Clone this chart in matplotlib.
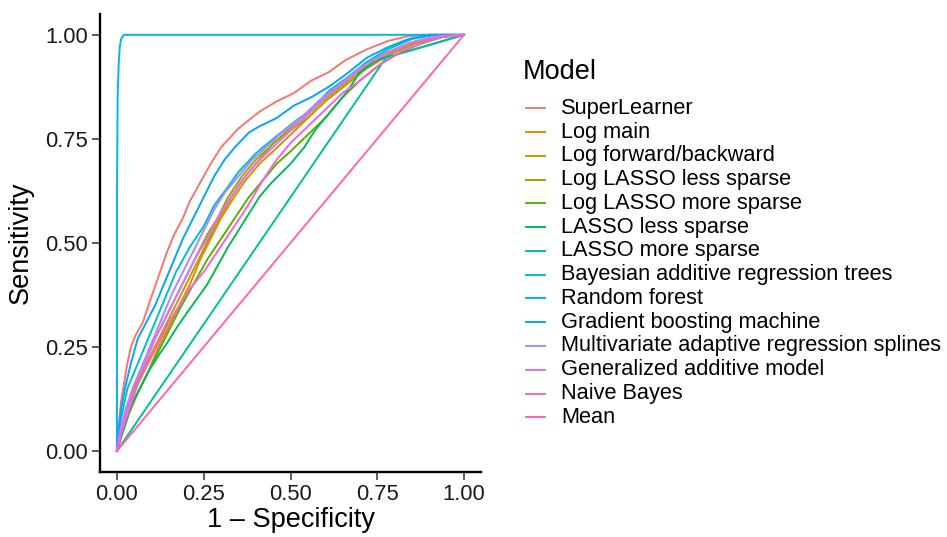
import numpy as np
import matplotlib
matplotlib.use("Agg")
import matplotlib.pyplot as plt
from matplotlib.lines import Line2D

plt.rcParams['font.family'] = ['Liberation Sans', 'DejaVu Sans']

# Model names (legend order)
models = [
    "SuperLearner", "Log main", "Log forward/backward", "Log LASSO less sparse",
    "Log LASSO more sparse", "LASSO less sparse", "LASSO more sparse",
    "Bayesian additive regression trees", "Random forest",
    "Gradient boosting machine", "Multivariate adaptive regression splines",
    "Generalized additive model", "Naive Bayes", "Mean",
]

# ROC curves: (1 - specificity, sensitivity)
superlearner_fpr = [0, 0.005, 0.012, 0.02, 0.03, 0.04, 0.055, 0.075, 0.095, 0.12, 0.145, 0.165, 0.19, 0.21, 0.24, 0.27, 0.30, 0.35, 0.41, 0.46, 0.51, 0.56, 0.61, 0.66, 0.72, 0.78, 0.84, 0.9, 1]
superlearner_tpr = [0, 0.06, 0.12, 0.16, 0.21, 0.25, 0.28, 0.31, 0.36, 0.42, 0.48, 0.52, 0.56, 0.60, 0.645, 0.69, 0.73, 0.775, 0.815, 0.84, 0.86, 0.89, 0.91, 0.94, 0.965, 0.985, 0.997, 1.0, 1]

logmain_fpr = [0, 0.01, 0.03, 0.06, 0.09, 0.12, 0.15, 0.18, 0.21, 0.24, 0.27, 0.3, 0.33, 0.37, 0.41, 0.45, 0.5, 0.55, 0.6, 0.66, 0.72, 0.79, 0.86, 0.93, 1]
logmain_tpr = [0, 0.04, 0.09, 0.14, 0.19, 0.25, 0.30, 0.35, 0.40, 0.46, 0.51, 0.56, 0.60, 0.65, 0.69, 0.72, 0.76, 0.80, 0.84, 0.88, 0.92, 0.955, 0.98, 0.995, 1]

logfb_fpr = [0, 0.012, 0.03, 0.055, 0.085, 0.115, 0.145, 0.175, 0.205, 0.235, 0.265, 0.295, 0.33, 0.37, 0.41, 0.45, 0.5, 0.55, 0.6, 0.66, 0.72, 0.79, 0.86, 0.93, 1]
logfb_tpr = [0, 0.05, 0.1, 0.15, 0.21, 0.26, 0.31, 0.36, 0.41, 0.46, 0.51, 0.56, 0.61, 0.66, 0.70, 0.74, 0.77, 0.80, 0.84, 0.88, 0.92, 0.955, 0.98, 0.995, 1]

loglasso_less_fpr = [0, 0.01, 0.03, 0.05, 0.08, 0.11, 0.14, 0.17, 0.2, 0.23, 0.26, 0.29, 0.32, 0.36, 0.4, 0.44, 0.49, 0.54, 0.59, 0.65, 0.71, 0.78, 0.85, 0.92, 1]
loglasso_less_tpr = [0, 0.04, 0.1, 0.15, 0.21, 0.27, 0.32, 0.37, 0.42, 0.47, 0.52, 0.56, 0.61, 0.66, 0.70, 0.73, 0.77, 0.80, 0.84, 0.88, 0.92, 0.955, 0.98, 0.995, 1]

loglasso_more_fpr = [0, 0.015, 0.035, 0.06, 0.09, 0.12, 0.15, 0.18, 0.22, 0.26, 0.3, 0.34, 0.38, 0.42, 0.46, 0.5, 0.55, 0.6, 0.65, 0.7, 0.76, 0.82, 0.88, 0.94, 1]
loglasso_more_tpr = [0, 0.04, 0.09, 0.14, 0.19, 0.24, 0.29, 0.34, 0.40, 0.46, 0.51, 0.56, 0.61, 0.65, 0.69, 0.72, 0.76, 0.80, 0.85, 0.89, 0.93, 0.96, 0.98, 0.995, 1]

lasso_less_fpr = [0, 0.01, 0.025, 0.04, 0.06, 0.09, 0.12, 0.145, 0.175, 0.2, 0.23, 0.26, 0.29, 0.32, 0.35, 0.38, 0.41, 0.44, 0.47, 0.5, 0.54, 0.57, 0.61, 0.66, 0.7, 0.75, 0.8, 0.86, 0.93, 1]
lasso_less_tpr = [0, 0.03, 0.07, 0.11, 0.14, 0.19, 0.23, 0.26, 0.30, 0.33, 0.365, 0.40, 0.445, 0.49, 0.53, 0.57, 0.61, 0.64, 0.665, 0.69, 0.73, 0.77, 0.81, 0.86, 0.91, 0.94, 0.952, 0.966, 0.983, 1]

lasso_more_fpr = [0, 0.775, 1]
lasso_more_tpr = [0, 0.945, 1]

bart_fpr = [0, 0.01, 0.03, 0.055, 0.08, 0.105, 0.13, 0.15, 0.17, 0.19, 0.21, 0.25, 0.28, 0.32, 0.35, 0.40, 0.45, 0.51, 0.56, 0.61, 0.66, 0.72, 0.78, 0.85, 0.92, 1]
bart_tpr = [0, 0.07, 0.15, 0.20, 0.25, 0.30, 0.35, 0.39, 0.43, 0.46, 0.49, 0.54, 0.59, 0.635, 0.67, 0.715, 0.75, 0.79, 0.82, 0.865, 0.895, 0.935, 0.965, 0.99, 1.0, 1]

rf_fpr = [0, 0.0, 0.002, 0.005, 0.008, 0.012, 0.02, 1]
rf_tpr = [0, 0.6, 0.85, 0.93, 0.97, 0.99, 1.0, 1]

gbm_fpr = [0, 0.005, 0.012, 0.023, 0.04, 0.06, 0.085, 0.11, 0.135, 0.16, 0.19, 0.22, 0.25, 0.28, 0.31, 0.34, 0.38, 0.41, 0.46, 0.51, 0.56, 0.61, 0.66, 0.72, 0.78, 0.84, 0.9, 1]
gbm_tpr = [0, 0.05, 0.10, 0.15, 0.21, 0.27, 0.31, 0.35, 0.40, 0.45, 0.51, 0.56, 0.61, 0.66, 0.70, 0.73, 0.765, 0.78, 0.80, 0.83, 0.85, 0.875, 0.905, 0.945, 0.97, 0.99, 1.0, 1]

mars_fpr = [0, 0.01, 0.025, 0.045, 0.07, 0.1, 0.13, 0.16, 0.19, 0.22, 0.25, 0.28, 0.31, 0.35, 0.39, 0.43, 0.48, 0.53, 0.58, 0.64, 0.7, 0.77, 0.84, 0.92, 1]
mars_tpr = [0, 0.05, 0.1, 0.15, 0.2, 0.26, 0.32, 0.38, 0.43, 0.48, 0.53, 0.58, 0.62, 0.66, 0.70, 0.73, 0.77, 0.80, 0.84, 0.88, 0.92, 0.955, 0.98, 0.995, 1]

gam_fpr = [0, 0.01, 0.03, 0.05, 0.08, 0.11, 0.14, 0.17, 0.2, 0.23, 0.26, 0.29, 0.32, 0.36, 0.4, 0.45, 0.5, 0.55, 0.6, 0.66, 0.72, 0.79, 0.86, 0.93, 1]
gam_tpr = [0, 0.05, 0.1, 0.16, 0.21, 0.27, 0.32, 0.37, 0.42, 0.47, 0.51, 0.56, 0.6, 0.65, 0.69, 0.73, 0.77, 0.81, 0.85, 0.89, 0.93, 0.96, 0.985, 0.997, 1]

nb_fpr = [0, 0.015, 0.035, 0.06, 0.09, 0.12, 0.15, 0.18, 0.21, 0.25, 0.29, 0.33, 0.37, 0.42, 0.46, 0.5, 0.55, 0.6, 0.65, 0.7, 0.76, 0.82, 0.88, 0.94, 1]
nb_tpr = [0, 0.05, 0.1, 0.16, 0.21, 0.26, 0.31, 0.35, 0.39, 0.43, 0.48, 0.53, 0.58, 0.65, 0.70, 0.74, 0.78, 0.82, 0.86, 0.89, 0.93, 0.96, 0.98, 0.995, 1]

mean_fpr = [0, 1]
mean_tpr = [0, 1]

curves = [
    (superlearner_fpr, superlearner_tpr), (logmain_fpr, logmain_tpr),
    (logfb_fpr, logfb_tpr), (loglasso_less_fpr, loglasso_less_tpr),
    (loglasso_more_fpr, loglasso_more_tpr), (lasso_less_fpr, lasso_less_tpr),
    (lasso_more_fpr, lasso_more_tpr), (bart_fpr, bart_tpr), (rf_fpr, rf_tpr),
    (gbm_fpr, gbm_tpr), (mars_fpr, mars_tpr), (gam_fpr, gam_tpr),
    (nb_fpr, nb_tpr), (mean_fpr, mean_tpr),
]


def hcl_to_hex(h, c=100.0, l=65.0):
    """ggplot-style hue palette colour (polar CIE-Luv -> sRGB)."""
    hr = np.deg2rad(h)
    u, v = c * np.cos(hr), c * np.sin(hr)
    xn, yn, zn = 95.047, 100.0, 108.883
    un = 4 * xn / (xn + 15 * yn + 3 * zn)
    vn = 9 * yn / (xn + 15 * yn + 3 * zn)
    Y = yn * ((l + 16) / 116) ** 3
    up = u / (13 * l) + un
    vp = v / (13 * l) + vn
    X = Y * 9 * up / (4 * vp)
    Z = Y * (12 - 3 * up - 20 * vp) / (4 * vp)
    xyz = np.array([X, Y, Z]) / 100
    m = np.array([[3.2404542, -1.5371385, -0.4985314],
                  [-0.9692660, 1.8760108, 0.0415560],
                  [0.0556434, -0.2040259, 1.0572252]])
    rgb = m @ xyz
    rgb = np.where(rgb <= 0.0031308, 12.92 * rgb, 1.055 * np.power(np.clip(rgb, 0, None), 1 / 2.4) - 0.055)
    return tuple(np.clip(rgb, 0, 1))


hues = np.linspace(15, 375, len(models) + 1)[:-1]
colors = [hcl_to_hex(h) for h in hues]

W, H = 947, 537
fig = plt.figure(figsize=(W / 100, H / 100), dpi=100)
ax = fig.add_axes([99.6 / W, 1 - 471.8 / H, 381.8 / W, 457.8 / H])

for (fx, ty), col in zip(curves, colors):
    ax.plot(fx, ty, color=col, lw=1.4, solid_joinstyle='round')

ax.set_xlim(-0.05, 1.05)
ax.set_ylim(-0.05, 1.05)
ticks = [0, 0.25, 0.5, 0.75, 1.0]
ax.set_xticks(ticks)
ax.set_yticks(ticks)
ax.set_xticklabels(["0.00", "0.25", "0.50", "0.75", "1.00"])
ax.set_yticklabels(["0.00", "0.25", "0.50", "0.75", "1.00"])
ax.tick_params(labelsize=15.8, length=5.5, width=1.1, color='#333333', labelcolor='#1a1a1a', pad=3)
for s in ['top', 'right']:
    ax.spines[s].set_visible(False)
for s in ['left', 'bottom']:
    ax.spines[s].set_linewidth(1.7)
    ax.spines[s].set_color('black')
ax.set_xlabel("1 \u2013 Specificity", fontsize=19.5, labelpad=2)
ax.set_ylabel("Sensitivity", fontsize=19.5, labelpad=8)

# legend (drawn in pixel positions to mimic ggplot layout)
fig.text(523 / W, 1 - 72 / H, "Model", fontsize=19.5, va='center', ha='left')
for i, (name, col) in enumerate(zip(models, colors)):
    yp = 1 - (108.3 + i * 23.77) / H
    fig.add_artist(Line2D([526 / W, 545 / W], [yp, yp], color=col, lw=1.4,
                          transform=fig.transFigure))
    fig.text(561 / W, yp, name, fontsize=15.7, va='center', ha='left')

fig.savefig("out.png", dpi=100)
